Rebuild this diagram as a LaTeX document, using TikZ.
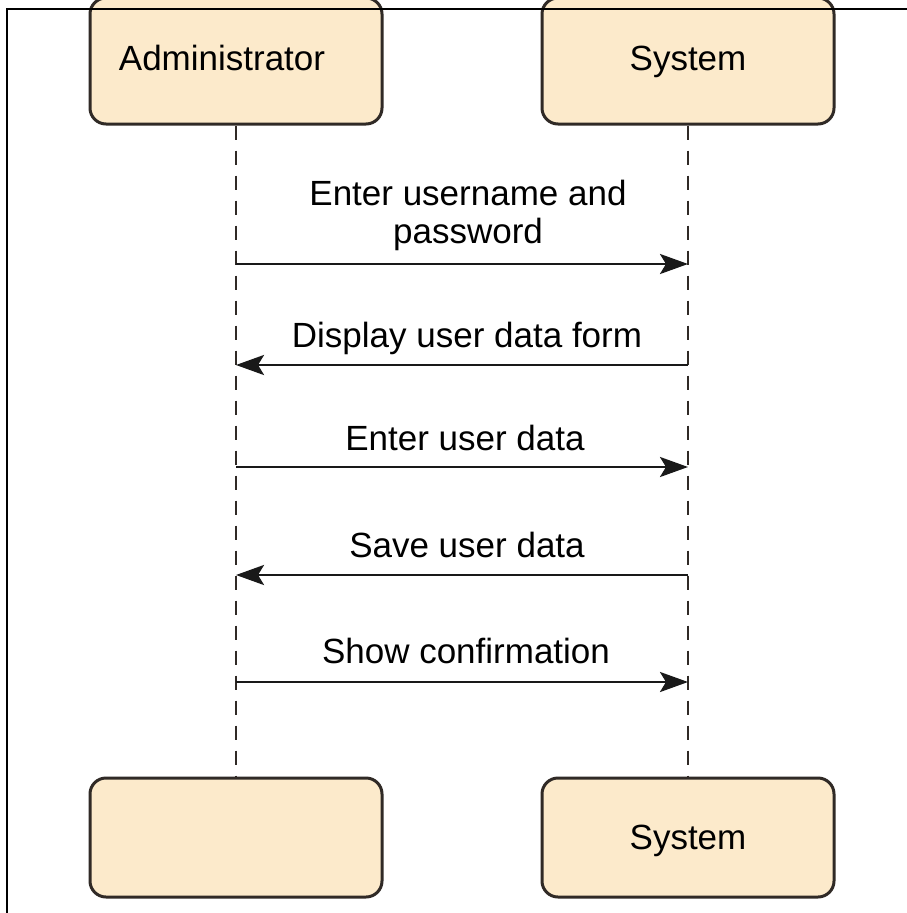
\documentclass[tikz,border=0pt]{standalone}
\usepackage{fontspec}
\setmainfont{Liberation Sans}
\usetikzlibrary{arrows.meta}
\definecolor{boxfill}{HTML}{FCEACB}
\definecolor{boxline}{HTML}{302A26}
\tikzset{
  actor/.style={draw=boxline, line width=3pt, fill=boxfill, rounded corners=16pt,
    minimum width=292pt, inner sep=0pt, text height=25pt, text depth=7pt,
    font=\fontsize{35}{40}\selectfont},
  lifeline/.style={draw=boxline, line width=1.8pt, dash pattern=on 14pt off 11pt},
  msg/.style={draw=black!90, line width=2.8pt, -{Stealth[length=28pt,width=20pt,inset=6pt]}},
  msglabel/.style={font=\fontsize{35}{40}\selectfont, align=center, anchor=base, inner sep=0pt},
}
\begin{document}
\begin{tikzpicture}[x=1pt,y=-1pt]
\useasboundingbox (0,0) rectangle (907,913);
\fill[white] (0,0) rectangle (907,913);
% actors
\node[actor, minimum height=126pt] (adminTop) at (236,61) {\hspace*{-28pt}Administrator};
\node[actor, minimum height=126pt] (sysTop) at (688,61) {System};
\node[actor, minimum height=119pt] (adminBot) at (236,837.5) {};
\node[actor, minimum height=119pt] (sysBot) at (688,837.5) {\raisebox{-3pt}{System}};
% lifelines
\draw[lifeline] (adminTop.south) -- (adminBot.north);
\draw[lifeline] (sysTop.south) -- (sysBot.north);
% message anchor points
\coordinate (a1) at (236,264); \coordinate (s1) at (688,264);
\coordinate (a2) at (236,365); \coordinate (s2) at (688,365);
\coordinate (a3) at (236,467); \coordinate (s3) at (688,467);
\coordinate (a4) at (236,575); \coordinate (s4) at (688,575);
\coordinate (a5) at (236,682); \coordinate (s5) at (688,682);
% messages
\draw[msg] (a1) -- (s1);
\draw[msg] (s2) -- (a2);
\draw[msg] (a3) -- (s3);
\draw[msg] (s4) -- (a4);
\draw[msg] (a5) -- (s5);
% labels
\node[msglabel] (l1b) at (468,243) {password};
\node[msglabel] (l1a) at (468,205) {Enter username and};
\node[msglabel] (l2) at (467,347) {Display user data form};
\node[msglabel] (l3) at (465,450) {Enter user data};
\node[msglabel] (l4) at (467,557) {Save user data};
\node[msglabel] (l5) at (466,663) {Show confirmation};
% frame
\draw[black, line width=2.5pt] (7,913) -- (7,9) -- (907,9);
\end{tikzpicture}
\end{document}
